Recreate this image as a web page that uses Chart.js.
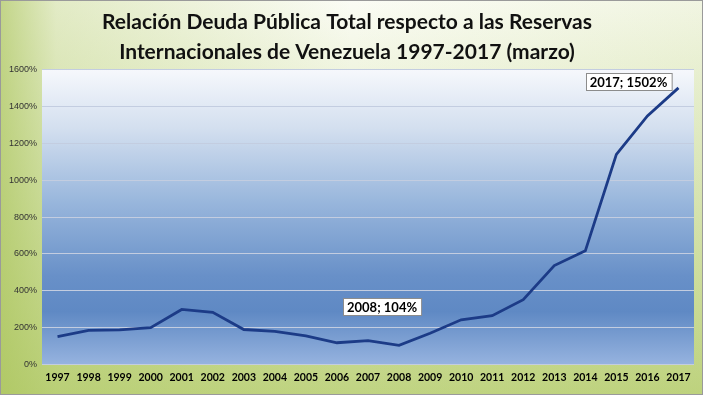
<!DOCTYPE html>
<html>
<head>
<meta charset="utf-8">
<script src="https://cdn.jsdelivr.net/npm/chart.js@4.4.0/dist/chart.umd.min.js"></script>
<style>
html,body{margin:0;padding:0;background:#fff;}
#wrap{position:relative;width:703px;height:395px;}
canvas{display:block;}
</style>
</head>
<body>
<div id="wrap"><canvas id="c" width="703" height="395"></canvas></div>
<script>
const categories = ['1997','1998','1999','2000','2001','2002','2003','2004','2005','2006','2007','2008','2009','2010','2011','2012','2013','2014','2015','2016','2017'];
const ratioValues = [152,185,188,200,299,283,190,180,156,118,130,104,170,243,265,352,537,617,1141,1350,1502];
const yTicks = [0,200,400,600,800,1000,1200,1400,1600];
const titleLines = ['Relación Deuda Pública Total respecto a las Reservas','Internacionales de Venezuela 1997-2017 (marzo)'];
const labeledPoints = [
  {index: 11, text: '2008; 104%', dx: -17, dy: -39},
  {index: 20, text: '2017; 1502%', dx: -50, dy: -6}
];

const bgPlugin = {
  id: 'bg',
  beforeDraw(chart) {
    const ctx = chart.ctx, W = chart.width, H = chart.height;
    ctx.save();
    let g = ctx.createLinearGradient(0, 0, 0, H);
    g.addColorStop(0, '#fbfcf5');
    g.addColorStop(0.5, '#dde8bc');
    g.addColorStop(1, '#c0d482');
    ctx.fillStyle = g;
    ctx.fillRect(0, 0, W, H);
    let g2 = ctx.createLinearGradient(0, 0, W, 0);
    g2.addColorStop(0, 'rgba(170,196,90,0.7)');
    g2.addColorStop(0.08, 'rgba(170,196,90,0.3)');
    g2.addColorStop(0.5, 'rgba(170,196,90,0)');
    g2.addColorStop(1, 'rgba(170,196,90,0.12)');
    ctx.fillStyle = g2;
    ctx.fillRect(0, 0, W, H);
    const a = chart.chartArea;
    let g3 = ctx.createLinearGradient(0, a.top, 0, a.bottom);
    g3.addColorStop(0, '#f6f8fc');
    g3.addColorStop(0.2, '#d3dfef');
    g3.addColorStop(0.45, '#98b6dc');
    g3.addColorStop(0.7, '#6890c8');
    g3.addColorStop(0.82, '#5f89c4');
    g3.addColorStop(1, '#96b3df');
    ctx.fillStyle = g3;
    ctx.fillRect(a.left, a.top, a.right - a.left, a.bottom - a.top);
    ctx.strokeStyle = '#9a9a9a';
    ctx.lineWidth = 1;
    ctx.strokeRect(0.5, 0.5, W - 1, H - 1);
    ctx.restore();
  }
};

const labelPlugin = {
  id: 'ptLabels',
  afterDatasetsDraw(chart) {
    const ctx = chart.ctx;
    const xs = chart.scales.x, ys = chart.scales.y;
    ctx.save();
    ctx.font = 'bold 13px Lato, "Open Sans", sans-serif';
    ctx.textBaseline = 'middle';
    labeledPoints.forEach(p => {
      const px = xs.getPixelForValue(p.index);
      const py = ys.getPixelForValue(ratioValues[p.index]);
      const tw = ctx.measureText(p.text).width;
      const w = tw + 8, h = 17;
      const cx = px + p.dx, cy = py + p.dy;
      const x0 = Math.round(cx - w / 2) + 0.5, y0 = Math.round(cy - h / 2) + 0.5;
      ctx.fillStyle = '#ffffff';
      ctx.fillRect(x0, y0, w, h);
      ctx.strokeStyle = '#8c8c8c';
      ctx.lineWidth = 1;
      ctx.strokeRect(x0, y0, w, h);
      ctx.fillStyle = '#000000';
      ctx.textAlign = 'center';
      ctx.fillText(p.text, cx, cy + 1);
    });
    ctx.restore();
  }
};

new Chart(document.getElementById('c'), {
  type: 'line',
  data: {
    labels: categories,
    datasets: [{
      data: ratioValues,
      borderColor: '#1c3b87',
      borderWidth: 2.8,
      pointRadius: 0,
      tension: 0,
      fill: false
    }]
  },
  options: {
    responsive: false,
    animation: false,
    devicePixelRatio: 1,
    layout: {padding: {left: 0, right: 9, top: 0, bottom: 12}},
    plugins: {
      legend: {display: false},
      tooltip: {enabled: false},
      title: {
        display: true,
        text: titleLines,
        color: '#111111',
        font: {family: 'Lato, "Open Sans", sans-serif', size: 21, weight: 'bold', lineHeight: 1.4},
        padding: {top: 8, bottom: 3}
      }
    },
    scales: {
      x: {
        offset: true,
        grid: {display: false},
        border: {display: false},
        ticks: {
          color: '#000000',
          font: {family: 'Lato, "Open Sans", sans-serif', size: 10.5, weight: 'bold', lineHeight: 1.0},
          maxRotation: 0, autoSkip: false, padding: 0
        }
      },
      y: {
        min: 0, max: 1600,
        afterBuildTicks(scale) { scale.ticks = yTicks.map(v => ({value: v})); },
        afterFit(scale) { scale.width = 42; },
        grid: {color: '#c3cde0', lineWidth: 1, drawTicks: false},
        border: {display: false},
        ticks: {
          color: '#333333',
          font: {family: '"Liberation Sans", Arial, sans-serif', size: 9},
          padding: 5,
          callback: v => v + '%'
        }
      }
    }
  },
  plugins: [bgPlugin, labelPlugin]
});
</script>
</body>
</html>
